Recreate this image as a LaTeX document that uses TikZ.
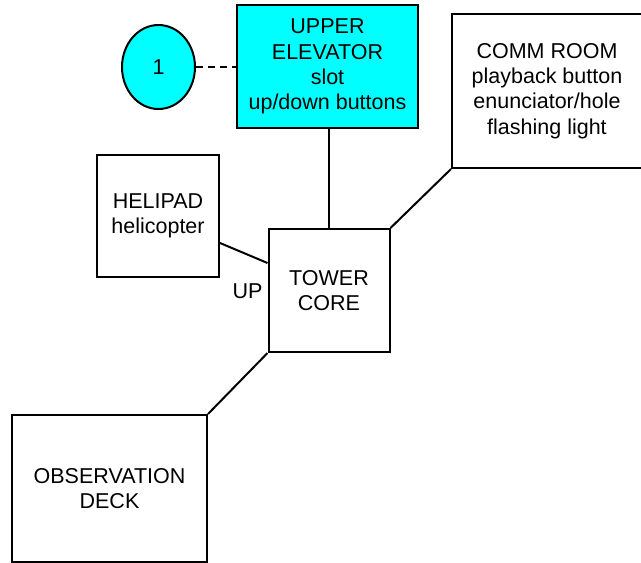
\documentclass[tikz,border=0pt]{standalone}
\usepackage{fontspec}
\setmainfont{Liberation Sans}
\usetikzlibrary{shapes.geometric}
\definecolor{aqua}{RGB}{0,255,255}
\tikzset{
  room/.style={draw=black, line width=2pt, rectangle, align=center, inner sep=0pt,
    font=\fontsize{21.5}{25.2}\selectfont},
  link/.style={draw=black, line width=2pt},
  lbl/.style={inner sep=0pt, font=\fontsize{21.5}{25.2}\selectfont}
}
\begin{document}
\begin{tikzpicture}[x=1pt,y=-1pt]
\useasboundingbox (0,0) rectangle (641,563);
\node[room, fill=aqua, minimum width=181pt, minimum height=123pt] (elev) at (327.5,66.5)
  {UPPER\\ELEVATOR\\slot\\up/down buttons};
\node[room, ellipse, fill=aqua, minimum width=73pt, minimum height=84pt] (one) at (158.5,67) {1};
\node[room, minimum width=190pt, minimum height=154pt] (comm) at (547,91)
  {COMM ROOM\\playback button\\enunciator/hole\\flashing light};
\node[room, minimum width=122pt, minimum height=122pt] (heli) at (158,216)
  {HELIPAD\\helicopter};
\node[room, minimum width=121pt, minimum height=123pt] (core) at (329,290.5)
  {TOWER\\CORE};
\node[room, minimum width=195pt, minimum height=147pt] (obs) at (109.5,488.5)
  {OBSERVATION\\DECK};
\node[lbl] (up) at (247.5,291) {UP};
\draw[link, dashed, dash pattern=on 7pt off 5pt] (one.east) -- (elev.west |- one.east);
\draw[link] (core.north) -- (core.north |- elev.south);
\draw[link] ([yshift=-27pt]heli.east) -- ([yshift=27.5pt]core.west);
\draw[link] (core.north east) -- (comm.south west);
\draw[link] (core.south west) -- (obs.north east);
\end{tikzpicture}
\end{document}
